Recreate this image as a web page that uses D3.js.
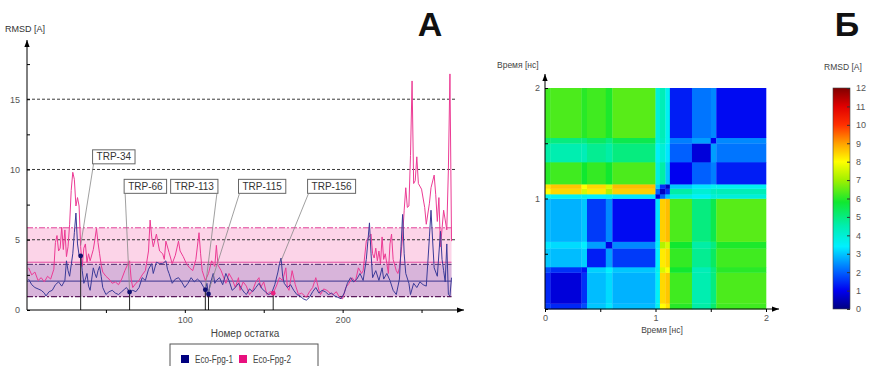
<!DOCTYPE html>
<html>
<head>
<meta charset="utf-8">
<script src="https://cdn.jsdelivr.net/npm/d3@7"></script>
<style>
  body { margin: 0; background: #fff; }
  svg { display: block; font-family: "Liberation Sans", Arial, sans-serif; }
</style>
</head>
<body>
<svg id="chart" width="870" height="366"></svg>
<script>
// ---- panel A: per-residue RMSD [residue, RMSD] ----
const fpg1 = [
  [1,2.2],[3,1.8],[5,1.6],[7,1.5],[9,1.4],[11,1.2],[12,1.0],[14,1.3],[16,1.4],[18,1.8],
  [20,2.0],[22,1.7],[24,2.1],[25,3.5],[26,2.8],[27,2.4],[28,3.2],[29,4.0],[30,5.5],[31,6.9],
  [32,4.7],[33,3.9],[34,3.85],[35,2.8],[36,1.9],[37,2.2],[38,2.6],[39,1.7],[40,1.4],[41,2.2],
  [42,3.0],[43,2.6],[44,2.3],[45,2.8],[46,3.1],[47,2.4],[48,1.6],[50,1.1],[52,1.3],[54,1.4],
  [56,1.2],[58,1.1],[60,1.3],[62,1.5],[63,1.6],[65,1.28],[67,1.4],[69,1.3],[71,1.6],[73,2.3],
  [75,2.1],[77,2.9],[79,3.3],[80,2.6],[82,3.4],[84,3.3],[86,3.3],[88,3.5],[89,2.9],[90,2.6],
  [92,1.9],[94,2.2],[96,2.3],[98,2.0],[100,1.6],[102,1.9],[104,2.3],[106,2.0],[108,2.2],[110,2.0],
  [112,1.6],[113,1.44],[114,1.9],[115,1.14],[116,1.8],[118,2.6],[119,1.9],[120,2.1],[122,2.3],[124,1.8],
  [126,2.6],[128,2.1],[130,1.4],[132,1.6],[134,1.9],[136,1.5],[138,1.2],[139,1.1],[141,1.5],[143,1.3],
  [145,1.6],[147,1.9],[149,1.5],[151,1.3],[153,1.1],[155,1.2],[157,1.8],[159,2.7],[160,3.3],[161,3.7],
  [162,2.4],[163,1.9],[165,1.6],[167,1.8],[169,1.4],[171,1.1],[173,1.0],[175,0.8],[177,0.7],[179,0.9],
  [181,1.3],[183,1.6],[185,1.2],[187,1.4],[189,1.3],[191,1.1],[193,1.2],[195,1.0],[197,0.9],[199,0.8],
  [201,1.2],[203,1.9],[205,2.3],[207,2.0],[209,2.2],[211,2.6],[213,2.1],[215,3.6],[216,4.9],[217,6.2],
  [218,4.0],[219,2.3],[221,2.8],[223,2.1],[225,3.0],[226,2.2],[228,2.6],[230,2.1],[232,1.4],[234,1.1],
  [236,2.2],[237,4.5],[238,6.8],[239,4.0],[240,2.6],[242,1.9],[243,1.1],[245,1.9],[247,1.6],[249,2.0],
  [251,1.8],[253,1.7],[254,3.4],[255,5.2],[256,7.1],[257,5.0],[258,3.0],[260,2.4],[262,5.6],[263,3.6],
  [264,2.8],[265,2.0],[266,4.7],[267,1.1],[268,1.0],[269,2.3]
];
const fpg2 = [
  [1,3.0],[3,2.5],[5,2.7],[7,2.1],[9,2.3],[11,2.0],[13,2.4],[15,2.2],[17,2.9],[18,4.8],
  [19,5.3],[20,4.2],[21,4.4],[22,5.9],[23,4.3],[24,5.7],[25,3.8],[26,4.5],[27,6.1],[28,8.5],
  [29,9.8],[30,9.3],[31,7.4],[32,8.0],[33,7.4],[34,4.5],[35,3.1],[36,4.4],[37,4.7],[38,3.4],
  [39,4.0],[40,3.5],[42,4.3],[43,5.0],[44,5.8],[45,4.8],[46,4.0],[47,3.2],[48,2.7],[50,2.4],
  [52,2.2],[54,1.9],[56,2.0],[58,1.8],[60,2.2],[62,2.8],[64,3.3],[65,3.5],[66,2.2],[67,1.6],
  [69,1.9],[71,2.1],[73,2.5],[75,2.8],[77,4.2],[78,6.4],[79,5.2],[80,4.5],[82,5.4],[84,4.2],
  [86,4.0],[87,3.6],[88,4.9],[90,4.1],[92,3.3],[94,3.9],[96,4.9],[97,4.2],[99,3.8],[101,3.3],
  [103,3.0],[105,2.8],[107,3.6],[109,5.5],[110,4.0],[111,2.8],[113,2.1],[115,2.6],[117,3.5],[119,3.1],
  [120,4.6],[121,3.2],[123,2.8],[125,2.2],[126,1.9],[128,2.6],[130,2.2],[132,1.6],[134,2.3],[135,1.4],
  [137,2.0],[139,1.7],[141,1.1],[143,1.4],[145,2.0],[147,2.3],[148,1.6],[150,2.0],[152,1.1],[154,1.3],
  [156,1.2],[158,1.7],[160,2.3],[162,2.1],[164,3.0],[165,1.6],[166,1.4],[168,2.8],[170,1.8],[172,1.1],
  [174,1.2],[176,1.0],[177,0.9],[179,1.3],[181,1.6],[183,2.3],[185,1.4],[186,1.1],[188,1.5],[190,1.4],
  [192,1.2],[194,1.1],[196,1.3],[198,0.9],[200,0.8],[202,1.6],[204,1.9],[206,2.3],[208,2.0],[210,3.0],
  [212,2.6],[213,2.8],[215,4.9],[216,5.1],[218,5.4],[219,4.0],[220,3.7],[221,4.4],[222,3.5],[223,4.2],
  [224,3.3],[225,5.2],[226,3.6],[227,4.0],[228,3.3],[229,2.6],[230,4.7],[231,5.4],[232,3.6],[234,2.8],
  [235,2.6],[236,3.0],[237,4.0],[238,5.2],[239,7.1],[240,8.7],[241,7.3],[242,7.4],[243,11.0],[244,16.3],
  [245,9.0],[246,9.2],[247,10.9],[248,9.0],[250,8.6],[252,7.3],[253,6.1],[255,7.6],[256,8.7],[258,9.6],
  [259,8.2],[260,6.3],[261,8.0],[262,4.5],[264,7.1],[266,5.7],[267,10.0],[268,16.8],[269,4.9]
];
const seriesNames = ['Eco-Fpg-1', 'Eco-Fpg-2'];
const seriesColors = ['#3b3b98', '#ec3b94'];
const legendColors = ['#000080', '#e8107e'];

// mean and band limits for each series
const fpg1Mean = 2.05, fpg1Band = [0.95, 3.25];
const fpg2Mean = 3.4,  fpg2Band = [0.95, 5.85];

// tryptophan annotations
const trpNames    = ['TRP-34', 'TRP-66', 'TRP-113', 'TRP-115', 'TRP-156'];
const trpResidue  = [34, 65, 113, 115, 156];
const trpRmsd     = [3.85, 1.28, 1.44, 1.14, 1.2];
const trpSeries   = [0, 0, 0, 0, 1];
const trpLeadRes  = [34, 65, 113, 115, 161];
const trpLeadRmsd = [4.6, 1.4, 1.6, 1.3, 3.5];
// label anchors (residue, RMSD) and which corner the leader starts from
const trpLabelRes  = [55, 75, 106, 149, 193];
const trpLabelRmsd = [10.9, 8.8, 8.8, 8.8, 8.8];
const trpLeadSide  = ['left', 'left', 'right', 'left', 'left'];

const yTicksA = [0, 5, 10, 15];
const xTicksA = [50, 100, 150, 200, 250];

// ---- panel B: RMSD matrix between trajectory frames (block values) ----
const timeBreaks = [0, 0.05, 0.33, 0.38, 0.55, 0.61, 1.0, 1.04, 1.09, 1.13, 1.33, 1.5, 1.55, 2.0];
const blockUpper = [
  [1.6, 1.4, 1.8, 3.0, 3.3, 2.9, 3.6, 8.0, 8.3, 6.0, 4.6, 5.2, 6.2],
  [0.8, 1.5, 2.9, 3.2, 2.8, 3.5, 8.4, 8.6, 6.2, 4.5, 5.0, 6.3],
  [1.2, 3.1, 3.4, 3.0, 3.6, 7.6, 8.0, 5.8, 4.4, 5.0, 6.0],
  [1.3, 2.6, 1.6, 3.4, 8.2, 8.4, 6.1, 4.8, 5.3, 6.2],
  [0.9, 2.4, 3.5, 7.2, 7.6, 5.8, 4.6, 5.0, 5.9],
  [1.1, 3.3, 8.5, 8.7, 6.3, 5.0, 5.5, 6.4],
  [0.8, 2.0, 3.0, 3.8, 3.5, 3.9, 3.9],
  [0.6, 1.5, 4.6, 4.0, 4.3, 4.4],
  [0.6, 3.0, 3.3, 3.6, 3.6],
  [1.0, 2.0, 2.3, 1.3],
  [0.8, 2.6, 2.2],
  [1.0, 2.4],
  [1.1]
];
const colorStops  = [0, 1, 2, 3.4, 4.5, 5.8, 7, 8, 9, 10, 11, 12];
const colorValues = ['#000080', '#0000f0', '#0060ff', '#00f0ff', '#00eeb0', '#10e830',
                     '#a0f000', '#ffff00', '#ffa000', '#ff3000', '#e00000', '#800000'];
const colorbarTicks = d3.range(0, 13);
const timeTicks = [0, 0.5, 1, 1.5, 2];

const svg = d3.select('#chart');
const defs = svg.append('defs');
defs.append('marker')
  .attr('id', 'arr')
  .attr('viewBox', '0 0 8 8')
  .attr('refX', 8).attr('refY', 4)
  .attr('markerWidth', 7).attr('markerHeight', 7)
  .attr('markerUnits', 'userSpaceOnUse')
  .attr('orient', 'auto')
  .append('path').attr('d', 'M0,1L8,4L0,7z').attr('fill', '#000');

// ================= Panel A =================
const x = d3.scaleLinear().domain([0, 275]).range([27, 461]);
const y = d3.scaleLinear().domain([0, 19]).range([310, 43]);
const xEnd = 269;

const gA = svg.append('g');

// bands
gA.append('rect')
  .attr('x', x(0)).attr('width', x(xEnd) - x(0))
  .attr('y', y(fpg2Band[1])).attr('height', y(fpg2Band[0]) - y(fpg2Band[1]))
  .attr('fill', '#fcd4e8');
gA.append('rect')
  .attr('x', x(0)).attr('width', x(xEnd) - x(0))
  .attr('y', y(fpg1Band[1])).attr('height', y(fpg1Band[0]) - y(fpg1Band[1]))
  .attr('fill', 'rgba(120,95,180,0.27)');

// dashed grid
gA.selectAll('.grid').data(yTicksA.filter(d => d > 0)).enter()
  .append('line')
  .attr('x1', x(0)).attr('x2', x(272))
  .attr('y1', d => y(d)).attr('y2', d => y(d))
  .attr('stroke', '#222').attr('stroke-width', 0.9)
  .attr('stroke-dasharray', '3,2');

// band edges (dash-dot) and means
const hline = (v, color, dash, w) => gA.append('line')
  .attr('x1', x(0)).attr('x2', x(xEnd))
  .attr('y1', y(v)).attr('y2', y(v))
  .attr('stroke', color).attr('stroke-width', w || 1)
  .attr('stroke-dasharray', dash);
hline(fpg2Band[1], '#e0409a', '6,2,2,2', 1);
hline(fpg1Band[1], '#4a2a6a', '6,2,2,2', 1);
hline(fpg1Band[0], '#5a1a5a', '6,2,2,2', 1.2);
hline(fpg2Mean, '#e04aa0', null, 1);
hline(fpg1Mean, '#5a4c9c', null, 1.2);

// series lines
const line = d3.line().x(d => x(d[0])).y(d => y(d[1]));
gA.append('path').datum(fpg2).attr('d', line)
  .attr('fill', 'none').attr('stroke', seriesColors[1]).attr('stroke-width', 1);
gA.append('path').datum(fpg1).attr('d', line)
  .attr('fill', 'none').attr('stroke', seriesColors[0]).attr('stroke-width', 1);

// annotations
trpNames.forEach((name, i) => {
  const px = x(trpResidue[i]), py = y(trpRmsd[i]);
  gA.append('line')
    .attr('x1', px).attr('x2', px).attr('y1', py).attr('y2', y(0))
    .attr('stroke', '#222').attr('stroke-width', 1);
  gA.append('circle')
    .attr('cx', px).attr('cy', py).attr('r', 2.4)
    .attr('fill', trpSeries[i] === 0 ? '#101070' : '#e8207e');

  const cx = x(trpLabelRes[i]), cy = y(trpLabelRmsd[i]);
  const t = gA.append('text')
    .attr('x', cx).attr('y', cy + 3.5)
    .attr('text-anchor', 'middle')
    .attr('font-size', 10).attr('fill', '#333')
    .text(name);
  const w = t.node().getComputedTextLength() + 8, h = 14;
  gA.insert('rect', 'text')
    .attr('x', cx - w / 2).attr('y', cy - h / 2)
    .attr('width', w).attr('height', h)
    .attr('fill', '#fff').attr('stroke', '#666').attr('stroke-width', 1);
  const sx = trpLeadSide[i] === 'left' ? cx - w / 2 + 1 : cx + w / 2 - 1;
  gA.append('line')
    .attr('x1', sx).attr('y1', cy + h / 2)
    .attr('x2', x(trpLeadRes[i])).attr('y2', y(trpLeadRmsd[i]))
    .attr('stroke', '#888').attr('stroke-width', 0.8);
});

// axes
gA.append('line').attr('x1', x(0)).attr('x2', x(0)).attr('y1', y(0)).attr('y2', 40)
  .attr('stroke', '#000').attr('marker-end', 'url(#arr)');
gA.append('line').attr('x1', x(0)).attr('x2', 464).attr('y1', y(0)).attr('y2', y(0))
  .attr('stroke', '#000').attr('marker-end', 'url(#arr)');

const yAxisA = gA.append('g').attr('transform', `translate(${x(0)},0)`)
  .call(d3.axisLeft(y).tickValues(d3.range(0, 18, 2.5)).tickSize(-3).tickPadding(7)
    .tickFormat(d => yTicksA.includes(d) ? d : ''));
const xAxisA = gA.append('g').attr('transform', `translate(0,${y(0)})`)
  .call(d3.axisBottom(x).tickValues(xTicksA).tickSize(3).tickPadding(4)
    .tickFormat(d => d % 100 === 0 ? d : ''));
[yAxisA, xAxisA].forEach(a => {
  a.select('.domain').remove();
  a.selectAll('text').attr('font-size', 9).attr('fill', '#555')
    .attr('font-family', '"Liberation Sans", Arial, sans-serif');
  a.selectAll('line').attr('stroke', '#000');
});

gA.append('text').attr('x', 5).attr('y', 32).attr('font-size', 9).attr('fill', '#333')
  .text('RMSD [A]');
gA.append('text').attr('x', 245).attr('y', 337).attr('text-anchor', 'middle')
  .attr('font-size', 10).attr('fill', '#444').text('Номер остатка');
svg.append('text').attr('x', 430).attr('y', 36).attr('text-anchor', 'middle')
  .attr('font-size', 34).attr('font-weight', 'bold').attr('fill', '#111').text('А');

// legend
const lg = svg.append('g').attr('transform', 'translate(170,344)');
lg.append('rect').attr('width', 148).attr('height', 26)
  .attr('fill', '#fff').attr('stroke', '#555');
seriesNames.forEach((n, i) => {
  const ox = i === 0 ? 11 : 69;
  lg.append('rect').attr('x', ox).attr('y', 11).attr('width', 8).attr('height', 8)
    .attr('fill', legendColors[i]);
  lg.append('text').attr('x', ox + 14).attr('y', 19).attr('font-size', 10)
    .attr('textLength', 38).attr('lengthAdjust', 'spacingAndGlyphs')
    .attr('fill', '#444').text(n);
});

// ================= Panel B =================
const hx = d3.scaleLinear().domain([0, 2]).range([545, 766]);
const hy = d3.scaleLinear().domain([0, 2]).range([309, 88]);
const color = d3.scaleLinear().domain(colorStops).range(colorValues).clamp(true);

const nSeg = timeBreaks.length - 1;
const matrix = d3.range(nSeg).map(i => d3.range(nSeg).map(j =>
  i <= j ? blockUpper[i][j - i] : blockUpper[j][i - j]));

const cells = [];
for (let i = 0; i < nSeg; i++) for (let j = 0; j < nSeg; j++)
  cells.push({ i, j, v: matrix[i][j] });

const gB = svg.append('g');
gB.selectAll('rect.cell').data(cells).enter().append('rect')
  .attr('class', 'cell')
  .attr('x', d => hx(timeBreaks[d.i]))
  .attr('width', d => hx(timeBreaks[d.i + 1]) - hx(timeBreaks[d.i]) + 0.3)
  .attr('y', d => hy(timeBreaks[d.j + 1]))
  .attr('height', d => hy(timeBreaks[d.j]) - hy(timeBreaks[d.j + 1]) + 0.3)
  .attr('fill', d => color(d.v));

gB.append('line').attr('x1', hx(0)).attr('x2', hx(0)).attr('y1', hy(0)).attr('y2', 74)
  .attr('stroke', '#000').attr('marker-end', 'url(#arr)');
gB.append('line').attr('x1', hx(0)).attr('x2', 779).attr('y1', hy(0)).attr('y2', hy(0))
  .attr('stroke', '#000').attr('marker-end', 'url(#arr)');

const yAxisB = gB.append('g').attr('transform', `translate(${hx(0)},0)`)
  .call(d3.axisLeft(hy).tickValues(timeTicks).tickSize(-3).tickPadding(5)
    .tickFormat(d => (d > 0 && Number.isInteger(d)) ? d : ''));
const xAxisB = gB.append('g').attr('transform', `translate(0,${hy(0)})`)
  .call(d3.axisBottom(hx).tickValues(timeTicks).tickSize(3).tickPadding(3)
    .tickFormat(d => Number.isInteger(d) ? d : ''));
[yAxisB, xAxisB].forEach(a => {
  a.select('.domain').remove();
  a.selectAll('text').attr('font-size', 9).attr('fill', '#555')
    .attr('font-family', '"Liberation Sans", Arial, sans-serif');
  a.selectAll('line').attr('stroke', '#000');
});
gB.append('text').attr('x', 497).attr('y', 68).attr('font-size', 8.5).attr('fill', '#444')
  .text('Время [нс]');
gB.append('text').attr('x', 662).attr('y', 333).attr('text-anchor', 'middle')
  .attr('font-size', 8.5).attr('fill', '#444').text('Время [нс]');

// colorbar
const cb = d3.scaleLinear().domain([0, 12]).range([309, 88]);
const grad = defs.append('linearGradient').attr('id', 'cbgrad')
  .attr('x1', 0).attr('y1', 1).attr('x2', 0).attr('y2', 0);
colorStops.forEach((s, k) => grad.append('stop')
  .attr('offset', s / 12).attr('stop-color', colorValues[k]));
svg.append('rect').attr('x', 833).attr('y', cb(12)).attr('width', 17)
  .attr('height', cb(0) - cb(12)).attr('fill', 'url(#cbgrad)')
  .attr('stroke', '#444').attr('stroke-width', 0.6);
const cbAxis = svg.append('g').attr('transform', 'translate(850,0)')
  .call(d3.axisRight(cb).tickValues(colorbarTicks).tickSize(-3).tickPadding(6));
cbAxis.select('.domain').remove();
cbAxis.selectAll('text').attr('font-size', 9).attr('fill', '#555')
  .attr('font-family', '"Liberation Sans", Arial, sans-serif');
cbAxis.selectAll('line').attr('stroke', '#333');
svg.append('text').attr('x', 824).attr('y', 70).attr('font-size', 8.5).attr('fill', '#444')
  .text('RMSD [A]');
svg.append('text').attr('x', 847).attr('y', 36).attr('text-anchor', 'middle')
  .attr('font-size', 34).attr('font-weight', 'bold').attr('fill', '#111').text('Б');
</script>
</body>
</html>
